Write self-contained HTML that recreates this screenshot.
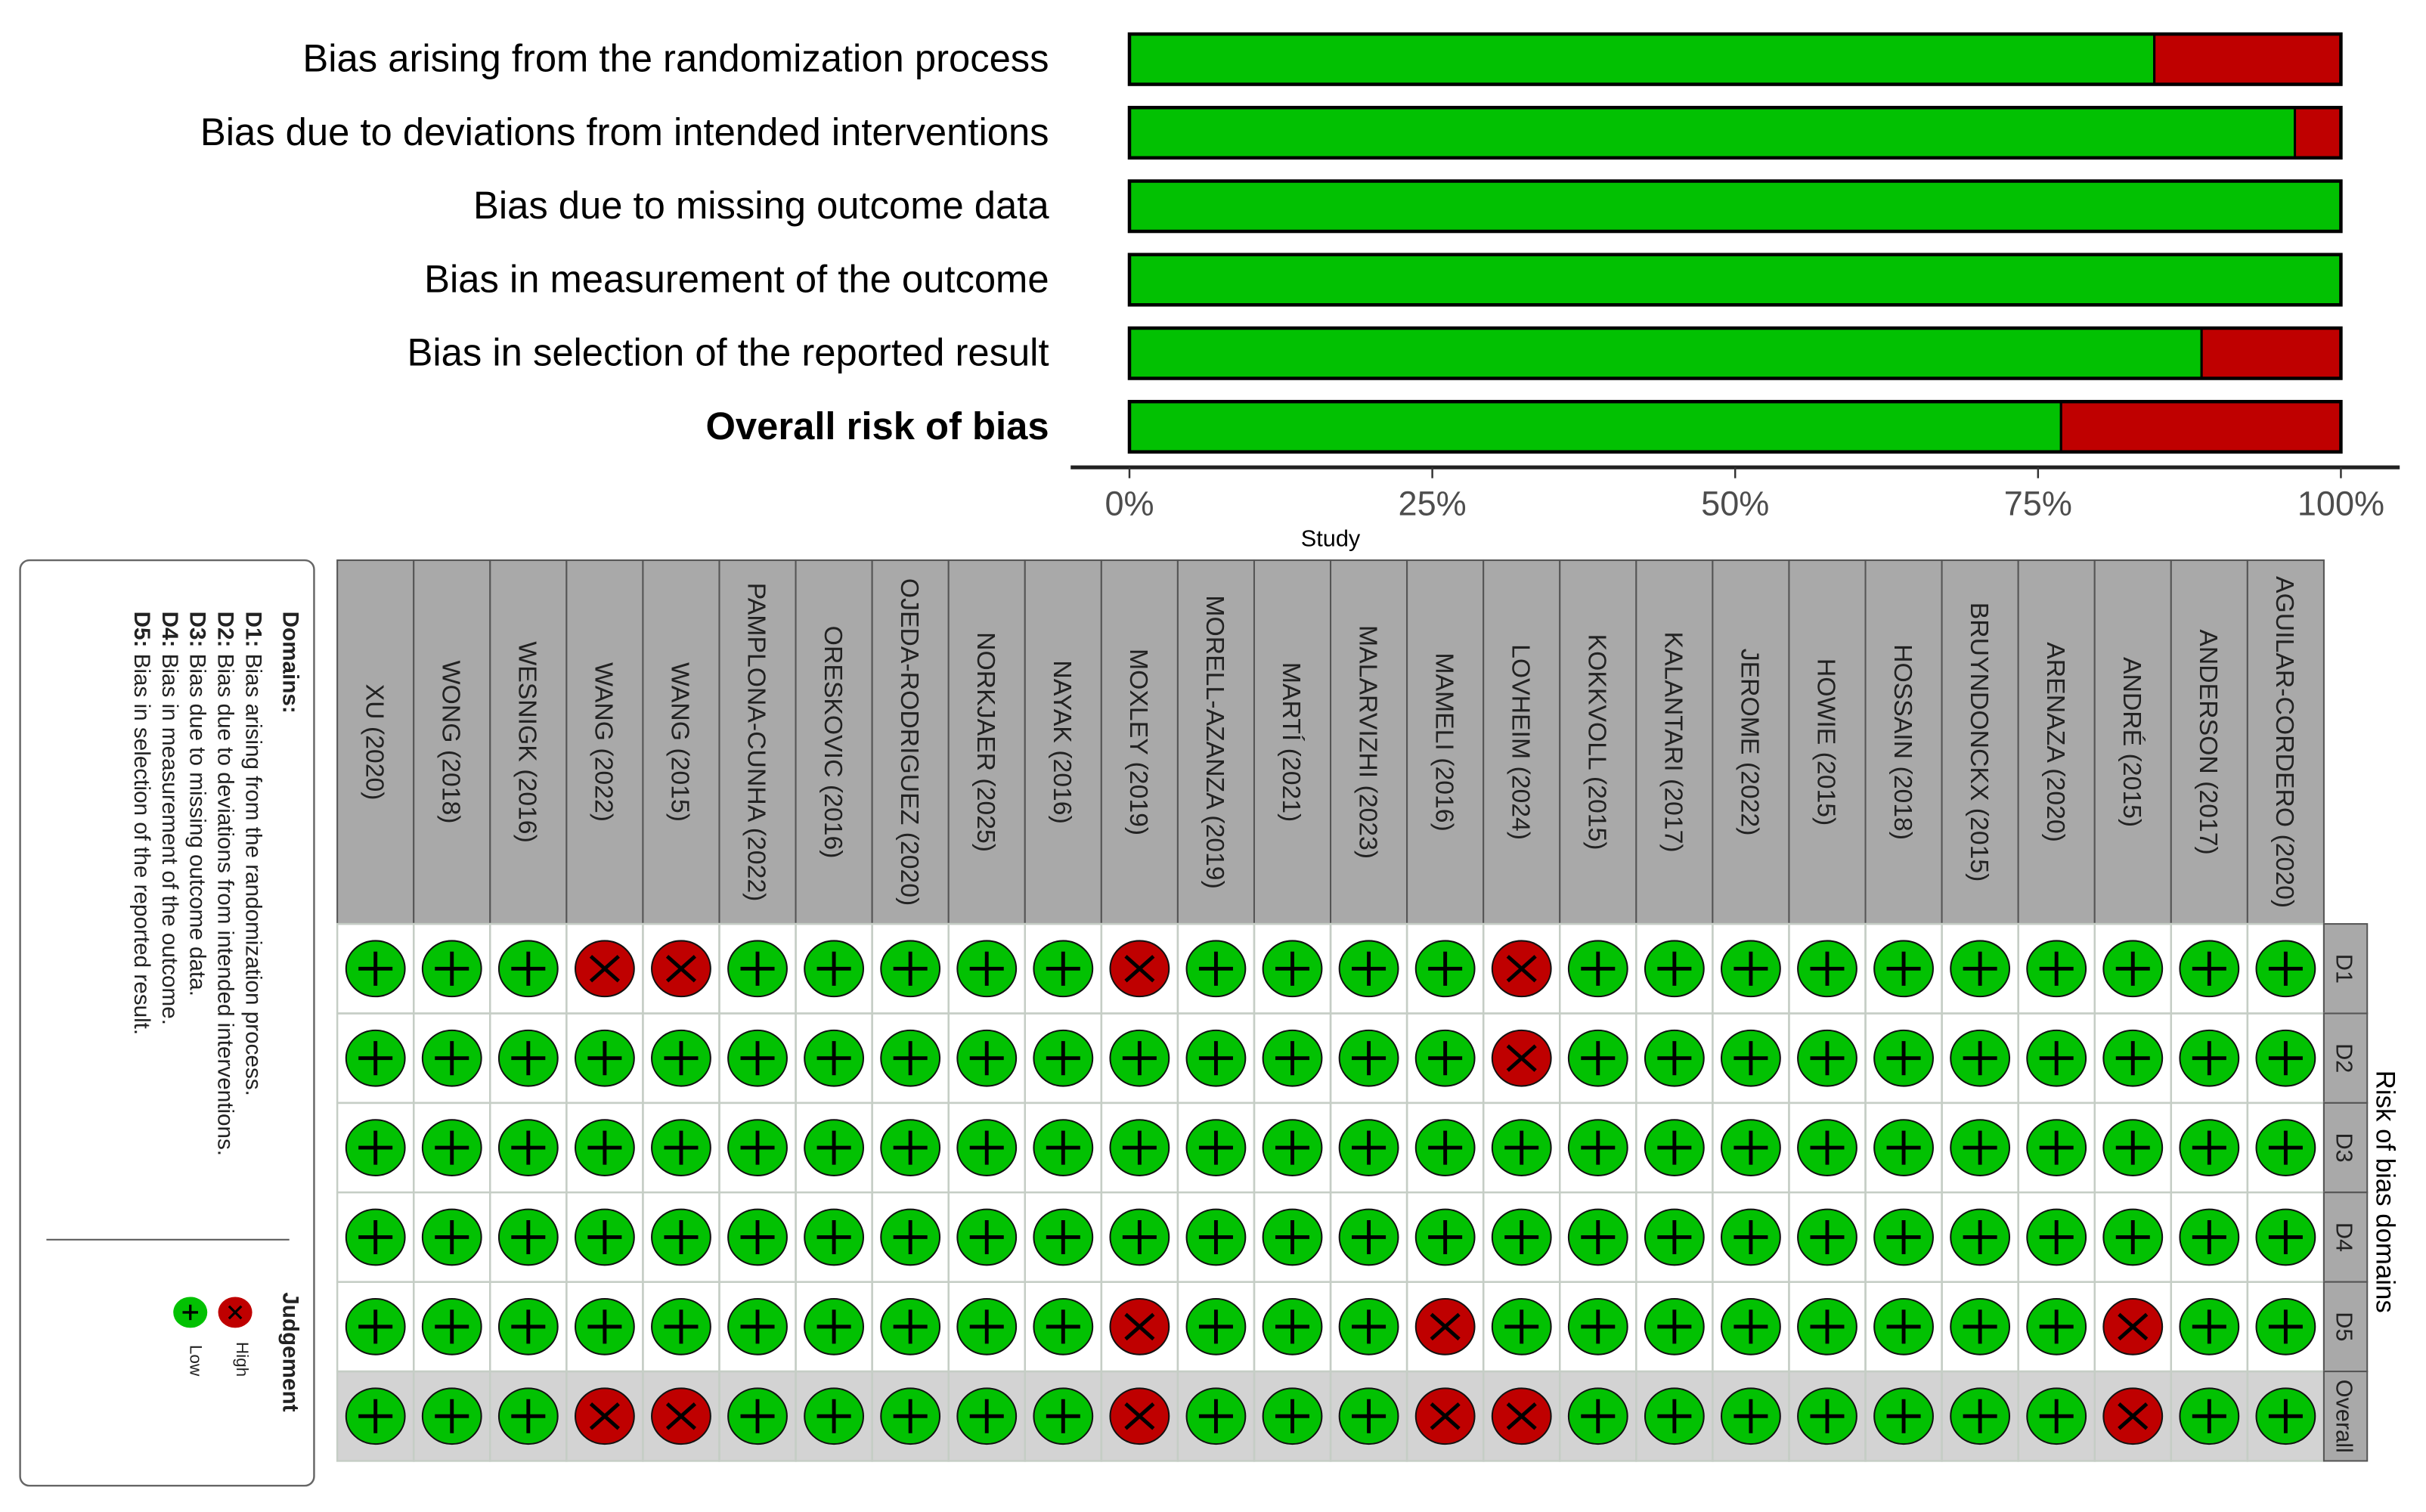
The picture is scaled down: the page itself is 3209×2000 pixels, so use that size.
<!DOCTYPE html>
<html><head><meta charset="utf-8"><style>
html,body{margin:0;padding:0;background:#fff;}
svg{display:block;}
text{font-family:"Liberation Sans",sans-serif;}
</style></head><body>
<svg id="chart" width="3209" height="2000" viewBox="0 0 1568 977" preserveAspectRatio="none" xmlns="http://www.w3.org/2000/svg">
<g id="topchart"></g>
<g id="grid"></g>
<g id="legend">
  <rect x="13" y="362" width="190" height="598" rx="6" fill="#fff" stroke="#666" stroke-width="1.2"/>
  <g>
    <g transform="translate(183,395) rotate(90)" font-family="Liberation Sans, sans-serif" font-size="14.5" fill="#222">
      <text x="0" y="0" font-weight="bold">Domains:</text>
      <text x="0" y="24"><tspan font-weight="bold">D1:</tspan> Bias arising from the randomization process.</text>
      <text x="0" y="42"><tspan font-weight="bold">D2:</tspan> Bias due to deviations from intended interventions.</text>
      <text x="0" y="60"><tspan font-weight="bold">D3:</tspan> Bias due to missing outcome data.</text>
      <text x="0" y="78"><tspan font-weight="bold">D4:</tspan> Bias in measurement of the outcome.</text>
      <text x="0" y="96"><tspan font-weight="bold">D5:</tspan> Bias in selection of the reported result.</text>
      <text x="440" y="0" font-weight="bold">Judgement</text>
      <text x="472" y="30" font-size="11">High</text>
      <text x="474" y="60" font-size="11">Low</text>
    </g>
    <line x1="30" y1="801" x2="187" y2="801" stroke="#555" stroke-width="1"/>
    <g><ellipse cx="152" cy="848" rx="11" ry="10" fill="#BF0000"/><path d="M148 844 L156 852 M156 844 L148 852" stroke="#000" stroke-width="1.6"/></g>
    <g><ellipse cx="123" cy="848" rx="11" ry="10" fill="#02C102"/><path d="M118 848 H128 M123 843 V853" stroke="#000" stroke-width="1.6"/></g>
  </g>
</g>
</svg>
<script>
const NS="http://www.w3.org/2000/svg";
// ---- data ----
const domainLabels=["Bias arising from the randomization process","Bias due to deviations from intended interventions","Bias due to missing outcome data","Bias in measurement of the outcome","Bias in selection of the reported result","Overall risk of bias"];
const lowPercent=[84.6,96.2,100,100,88.5,76.9];
const highPercent=[15.4,3.8,0,0,11.5,23.1];
const tickValues=[0,25,50,75,100];
const tickLabels=["0%","25%","50%","75%","100%"];
const studies=["XU (2020)","WONG (2018)","WESNIGK (2016)","WANG (2022)","WANG (2015)","PAMPLONA-CUNHA (2022)","ORESKOVIC (2016)","OJEDA-RODRIGUEZ (2020)","NORKJAER (2025)","NAYAK (2016)","MOXLEY (2019)","MORELL-AZANZA (2019)","MARTÍ (2021)","MALARVIZHI (2023)","MAMELI (2016)","LOVHEIM (2024)","KOKKVOLL (2015)","KALANTARI (2017)","JEROME (2022)","HOWIE (2015)","HOSSAIN (2018)","BRUYNDONCKX (2015)","ARENAZA (2020)","ANDRÉ (2015)","ANDERSON (2017)","AGUILAR-CORDERO (2020)"];
const rowLabels=["D1","D2","D3","D4","D5","Overall"];
const judgD1=["L","L","L","H","H","L","L","L","L","L","H","L","L","L","L","H","L","L","L","L","L","L","L","L","L","L"];
const judgD2=["L","L","L","L","L","L","L","L","L","L","L","L","L","L","L","H","L","L","L","L","L","L","L","L","L","L"];
const judgD3=["L","L","L","L","L","L","L","L","L","L","L","L","L","L","L","L","L","L","L","L","L","L","L","L","L","L"];
const judgD4=["L","L","L","L","L","L","L","L","L","L","L","L","L","L","L","L","L","L","L","L","L","L","L","L","L","L"];
const judgD5=["L","L","L","L","L","L","L","L","L","L","H","L","L","L","H","L","L","L","L","L","L","L","L","H","L","L"];
const judgOverall=["L","L","L","H","H","L","L","L","L","L","H","L","L","L","H","H","L","L","L","L","L","L","L","H","L","L"];
const judgements=[judgD1,judgD2,judgD3,judgD4,judgD5,judgOverall];
const GREEN="#02C102",RED="#BF0000";
function mk(tag,attrs,parent){const e=document.createElementNS(NS,tag);for(const k in attrs)e.setAttribute(k,attrs[k]);parent.appendChild(e);return e;}
// ---- top bar chart ----
const topG=document.getElementById('topchart');
const x0=730,x1=1513;
const xs=v=>x0+(x1-x0)*v/100;
const rowY=i=>22+i*47.5;
const barH=32.5;
domainLabels.forEach((lab,i)=>{
  const t=mk('text',{x:678,y:rowY(i)+barH/2+8,'text-anchor':'end','font-size':24.8,fill:'#000','font-weight':i===5?'bold':'normal'},topG);
  t.textContent=lab;
  
  
  const g=mk('rect',{x:xs(0),y:rowY(i),width:xs(lowPercent[i])-xs(0),height:barH,fill:GREEN,stroke:'#000','stroke-width':1.5},topG);
  
  
  if(highPercent[i]>0){
    const r=mk('rect',{x:xs(lowPercent[i]),y:rowY(i),width:xs(lowPercent[i]+highPercent[i])-xs(lowPercent[i]),height:barH,fill:RED,stroke:'#000','stroke-width':1.5},topG);
    
    
  }
  const o=mk('rect',{x:xs(0),y:rowY(i),width:xs(100)-xs(0),height:barH,fill:'none',stroke:'#000','stroke-width':2.2},topG);
  
  
});
const ax=mk('line',{x1:692,y1:302,x2:1551,y2:302,stroke:'#222','stroke-width':2.5},topG);


tickValues.forEach((v,i)=>{
  const tk=mk('line',{x1:xs(v),y1:302,x2:xs(v),y2:309,stroke:'#333','stroke-width':1.2},topG);
  
  
  const tl=mk('text',{x:xs(v),y:333,'text-anchor':'middle','font-size':22,fill:'#4d4d4d'},topG);
  tl.textContent=tickLabels[i];
  
  
});
const st=mk('text',{x:860,y:353,'text-anchor':'middle','font-size':15,fill:'#000'},topG);
st.textContent='Study';


// ---- traffic light grid ----
const grid=document.getElementById('grid');
const gx0=218,gx1=1502,hy0=362,hy1=597,gy1=944;
const cw=(gx1-gx0)/studies.length, rh=(gy1-hy1)/rowLabels.length;
const cx=j=>gx0+cw*(j+0.5), ry=i=>hy1+rh*i;
const ob=mk('rect',{x:gx0,y:ry(5),width:gx1-gx0,height:rh,fill:'#d3d3d3'},grid);


studies.forEach((s,j)=>{
  const h=mk('rect',{x:gx0+cw*j,y:hy0,width:cw,height:hy1-hy0,fill:'#a9a9a9',stroke:'#555','stroke-width':1},grid);
  
  
  const t=mk('text',{transform:`translate(${cx(j)-6},${(hy0+hy1)/2}) rotate(90)`,'text-anchor':'middle','font-size':16.5,fill:'#222'},grid);
  t.textContent=s;
  
  
});
rowLabels.forEach((r,i)=>{
  for(let j=0;j<studies.length;j++){
    const c=mk('rect',{x:gx0+cw*j,y:ry(i),width:cw,height:rh,fill:'none',stroke:'#c5cdc5','stroke-width':1.2},grid);
    
    
    const v=judgements[i][j];
    const g=mk('g',{},grid);
    
    
    const X=cx(j),Y=ry(i)+rh/2;
    mk('ellipse',{cx:X,cy:Y,rx:19,ry:18,fill:v==='H'?RED:GREEN,stroke:'#111','stroke-width':1},g);
    if(v==='H') mk('path',{d:`M${X-9} ${Y-8} L${X+9} ${Y+8} M${X+9} ${Y-8} L${X-9} ${Y+8}`,stroke:'#000','stroke-width':2.4},g);
    else mk('path',{d:`M${X-11} ${Y} H${X+11} M${X} ${Y-11} V${Y+11}`,stroke:'#000','stroke-width':2.4},g);
  }
  const sr=mk('rect',{x:1502,y:ry(i),width:28,height:rh,fill:'#a9a9a9',stroke:'#555','stroke-width':1},grid);
  
  
  const sl=mk('text',{transform:`translate(${1510},${ry(i)+rh/2}) rotate(90)`,'text-anchor':'middle','font-size':15,fill:'#222'},grid);
  sl.textContent=r;
  
  
});
const rt=mk('text',{transform:'translate(1536,770) rotate(90)','text-anchor':'middle','font-size':17,fill:'#000'},grid);
rt.textContent='Risk of bias domains';


</script>
</body></html>
